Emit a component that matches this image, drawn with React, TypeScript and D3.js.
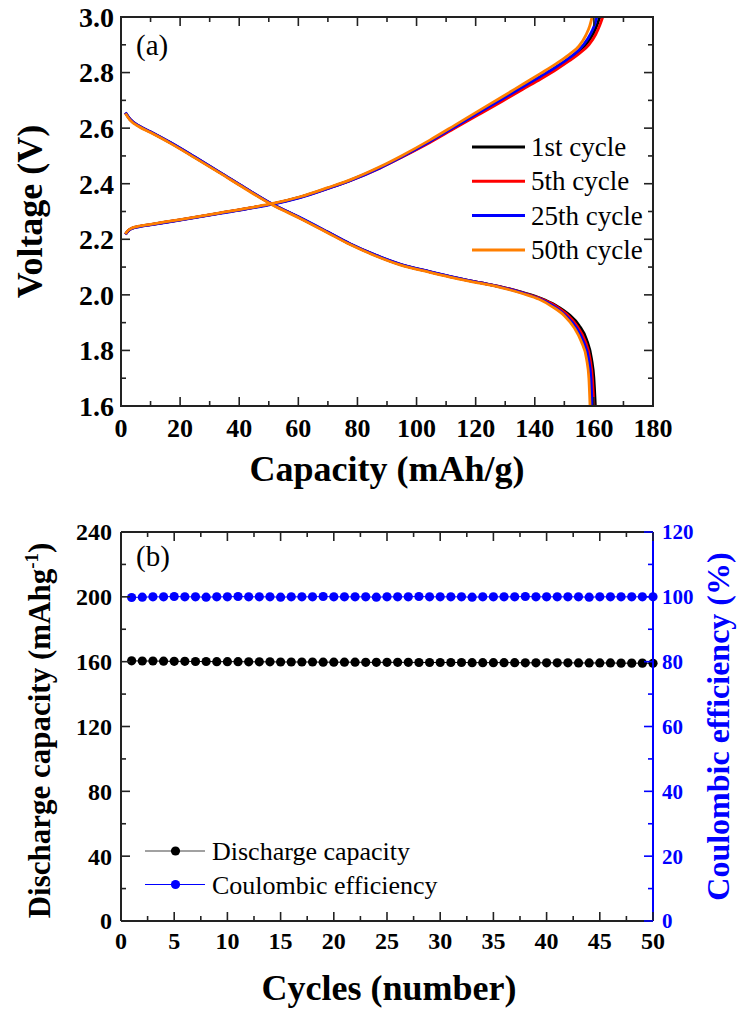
import React from 'react'
import * as d3 from 'd3'

// ---- panel (a): voltage profiles, [capacity mAh/g, voltage V]
const cycleNames = ['1st cycle', '5th cycle', '25th cycle', '50th cycle']
const cycleColors = ['#000000', '#ff0000', '#0000ff', '#ff7f00']

const discharge1 = [[1.5,2.655],[3,2.632],[6,2.608],[10,2.586],[16.6,2.548],[25,2.495],[33.5,2.44],[42,2.384],[51,2.327],[60.6,2.277],[70,2.225],[77.5,2.183],[86,2.143],[94.4,2.11],[104.5,2.083],[111.3,2.066],[121.4,2.044],[128.2,2.03],[136.1,2.008],[142,1.988],[147,1.963],[151.5,1.93],[155,1.89],[157.5,1.84],[159.2,1.77],[160,1.7],[160.5,1.6]]
const discharge5 = [[1.5,2.655],[3,2.632],[6,2.608],[10,2.586],[16.6,2.548],[25,2.495],[33.5,2.44],[42,2.384],[51,2.327],[60.6,2.277],[70,2.225],[77.5,2.183],[86,2.143],[94.4,2.11],[104.5,2.083],[111.3,2.066],[121.4,2.044],[128.2,2.03],[136.1,2.007],[142,1.986],[147,1.96],[151,1.928],[154.5,1.885],[157,1.835],[158.7,1.77],[159.5,1.7],[160,1.6]]
const discharge25 = [[1.5,2.656],[3,2.633],[6,2.609],[10,2.587],[16.6,2.549],[25,2.496],[33.5,2.441],[42,2.385],[51,2.328],[60.6,2.278],[70,2.226],[77.5,2.184],[86,2.144],[94.4,2.111],[104.5,2.084],[111.3,2.067],[121.4,2.044],[128.2,2.029],[136.1,2.006],[142,1.984],[146.5,1.958],[150.5,1.925],[154,1.882],[156.5,1.83],[158.2,1.77],[159,1.7],[159.4,1.6]]
const discharge50 = [[1.5,2.653],[3,2.63],[6,2.606],[10,2.584],[16.6,2.546],[25,2.493],[33.5,2.438],[42,2.382],[51,2.325],[60.6,2.275],[70,2.223],[77.5,2.181],[86,2.141],[94.4,2.108],[104.5,2.081],[111.3,2.064],[121.4,2.042],[128.2,2.027],[136.1,2.004],[141.5,1.984],[146,1.957],[150,1.925],[153.3,1.882],[155.8,1.83],[157.5,1.77],[158.3,1.7],[158.7,1.6]]

const charge1 = [[1.5,2.218],[2.5,2.232],[4,2.241],[6,2.246],[10,2.253],[20,2.27],[33.5,2.294],[45,2.315],[51,2.327],[60.6,2.352],[70,2.384],[77.5,2.412],[87.6,2.458],[95,2.497],[104.5,2.551],[113,2.603],[121.4,2.655],[129,2.702],[136.1,2.746],[142,2.783],[147.4,2.818],[151.5,2.848],[155,2.876],[158,2.91],[160,2.945],[161.2,2.975],[162,3.0]]
const charge5 = [[1.5,2.218],[2.5,2.232],[4,2.241],[6,2.246],[10,2.253],[20,2.27],[33.5,2.294],[45,2.315],[51,2.327],[60.6,2.351],[70,2.383],[77.5,2.411],[87.6,2.456],[95,2.495],[104.5,2.548],[113,2.6],[121.4,2.651],[129,2.697],[136.1,2.741],[142,2.777],[147.4,2.812],[151.5,2.841],[155,2.868],[158.3,2.9],[160.6,2.937],[162,2.97],[163,3.0]]
const charge25 = [[1.5,2.217],[2.5,2.231],[4,2.24],[6,2.245],[10,2.252],[20,2.269],[33.5,2.293],[45,2.314],[51,2.326],[60.6,2.35],[70,2.383],[77.5,2.411],[87.6,2.457],[95,2.497],[104.5,2.552],[113,2.605],[121.4,2.658],[129,2.705],[136.1,2.75],[142,2.787],[147.4,2.822],[151.5,2.852],[155,2.882],[157.8,2.92],[159.6,2.955],[160.5,2.98],[161,3.0]]
const charge50 = [[1.5,2.219],[2.5,2.233],[4,2.242],[6,2.247],[10,2.254],[20,2.271],[33.5,2.295],[45,2.316],[51,2.328],[60.6,2.353],[70,2.386],[77.5,2.414],[87.6,2.461],[95,2.501],[104.5,2.557],[113,2.611],[121.4,2.665],[129,2.713],[136.1,2.759],[142,2.797],[147.4,2.833],[151.5,2.864],[155,2.896],[157.3,2.935],[158.6,2.968],[159.4,3.0]]

const dischargeCurves = [discharge1, discharge5, discharge25, discharge50]
const chargeCurves = [charge1, charge5, charge25, charge50]

// ---- panel (b): cycling
const cycles = d3.range(1, 51)
const dischargeCapacity = [160.5,160.4,160.4,160.3,160.2,160.2,160.1,160.1,160.0,160.0,160.0,159.9,159.9,159.9,159.8,159.8,159.8,159.8,159.7,159.7,159.7,159.7,159.6,159.6,159.6,159.6,159.6,159.5,159.5,159.5,159.5,159.5,159.4,159.4,159.4,159.4,159.4,159.3,159.3,159.3,159.3,159.3,159.2,159.2,159.2,159.2,159.1,159.1,159.1,159.0]
const coulombicEff = [99.8,99.9,100.0,100.0,100.1,100.0,100.0,99.9,100.0,100.0,100.1,100.0,100.0,100.0,99.9,100.0,100.0,100.0,100.1,100.0,100.0,100.0,100.0,99.9,100.0,100.0,100.0,100.1,100.0,100.0,100.0,100.0,99.9,100.0,100.0,100.0,100.0,100.1,100.0,100.0,100.0,100.0,100.0,99.9,100.0,100.0,100.0,100.0,100.0,100.0]

const font = '"Liberation Serif", "Times New Roman", serif'
const axisColor = '#222'
const BLUE = '#0000ff'

const A = { l: 121, r: 653, t: 17, b: 406 }
const B = { l: 121, r: 653, t: 532, b: 921 }

function Ticks({ scale, values, orient, pos, len, color }) {
  // inward ticks
  return values.map((v, i) => {
    const p = scale(v)
    if (orient === 'bottom') return <line key={i} x1={p} x2={p} y1={pos} y2={pos - len} stroke={color} strokeWidth={1.6} />
    if (orient === 'top') return <line key={i} x1={p} x2={p} y1={pos} y2={pos + len} stroke={color} strokeWidth={1.6} />
    if (orient === 'left') return <line key={i} x1={pos} x2={pos + len} y1={p} y2={p} stroke={color} strokeWidth={1.6} />
    return <line key={i} x1={pos} x2={pos - len} y1={p} y2={p} stroke={color} strokeWidth={1.6} />
  })
}

function PanelA() {
  const x = d3.scaleLinear().domain([0, 180]).range([A.l, A.r])
  const y = d3.scaleLinear().domain([1.6, 3.0]).range([A.b, A.t])
  const line = d3.line().x(d => x(d[0])).y(d => y(d[1])).curve(d3.curveMonotoneX)
  const xMaj = d3.range(0, 181, 20)
  const xMin = d3.range(10, 180, 20)
  const yMaj = d3.range(0, 8).map(i => 1.6 + i * 0.2)
  const yMin = d3.range(0, 7).map(i => 1.7 + i * 0.2)
  return (
    <g>
      <defs>
        <clipPath id="clipA"><rect x={A.l} y={A.t} width={A.r - A.l} height={A.b - A.t} /></clipPath>
      </defs>
      <g clipPath="url(#clipA)">
        {cycleColors.map((c, i) => (
          <g key={i}>
            <path d={line(dischargeCurves[i])} fill="none" stroke={c} strokeWidth={2.8} />
            <path d={line(chargeCurves[i])} fill="none" stroke={c} strokeWidth={2.8} />
          </g>
        ))}
      </g>
      <rect x={A.l} y={A.t} width={A.r - A.l} height={A.b - A.t} fill="none" stroke={axisColor} strokeWidth={2} />
      <Ticks scale={x} values={xMaj} orient="bottom" pos={A.b} len={9} color={axisColor} />
      <Ticks scale={x} values={xMin} orient="bottom" pos={A.b} len={5} color={axisColor} />
      <Ticks scale={x} values={xMaj} orient="top" pos={A.t} len={9} color={axisColor} />
      <Ticks scale={x} values={xMin} orient="top" pos={A.t} len={5} color={axisColor} />
      <Ticks scale={y} values={yMaj} orient="left" pos={A.l} len={9} color={axisColor} />
      <Ticks scale={y} values={yMin} orient="left" pos={A.l} len={5} color={axisColor} />
      <Ticks scale={y} values={yMaj} orient="right" pos={A.r} len={9} color={axisColor} />
      <Ticks scale={y} values={yMin} orient="right" pos={A.r} len={5} color={axisColor} />
      {xMaj.map(v => (
        <text key={v} x={x(v)} y={437} textAnchor="middle" fontSize={26} fontWeight="bold">{v}</text>
      ))}
      {yMaj.map(v => (
        <text key={v} x={114} y={y(v)} dy="0.35em" textAnchor="end" fontSize={28} fontWeight="bold">{v.toFixed(1)}</text>
      ))}
      <text x={136} y={55} fontSize={29}>(a)</text>
      {cycleNames.map((n, i) => (
        <g key={n} transform={`translate(0,${147 + i * 34.3})`}>
          <line x1={472} x2={525} y1={0} y2={0} stroke={cycleColors[i]} strokeWidth={3} />
          <text x={531} y={9} fontSize={27}>{n}</text>
        </g>
      ))}
      <text x={(A.l + A.r) / 2} y={481} textAnchor="middle" fontSize={36} fontWeight="bold">Capacity (mAh/g)</text>
      <text transform={`translate(42,${(A.t + A.b) / 2}) rotate(-90)`} textAnchor="middle" fontSize={36} fontWeight="bold">Voltage (V)</text>
    </g>
  )
}

function PanelB() {
  const x = d3.scaleLinear().domain([0, 50]).range([B.l, B.r])
  const yL = d3.scaleLinear().domain([0, 240]).range([B.b, B.t])
  const yR = d3.scaleLinear().domain([0, 120]).range([B.b, B.t])
  const capLine = d3.line().x((d, i) => x(cycles[i])).y(d => yL(d))
  const ceLine = d3.line().x((d, i) => x(cycles[i])).y(d => yR(d))
  const xMaj = d3.range(0, 51, 5)
  const xMin = d3.range(2.5, 50, 5)
  const lMaj = d3.range(0, 241, 40)
  const lMin = d3.range(20, 240, 40)
  const rMaj = d3.range(0, 121, 20)
  const rMin = d3.range(10, 120, 20)
  return (
    <g>
      <path d={capLine(dischargeCapacity)} fill="none" stroke="#000" strokeWidth={1} />
      <path d={ceLine(coulombicEff)} fill="none" stroke={BLUE} strokeWidth={1} />
      {cycles.map((c, i) => (
        <circle key={'c' + c} cx={x(c)} cy={yL(dischargeCapacity[i])} r={4.6} fill="#000" />
      ))}
      {cycles.map((c, i) => (
        <circle key={'e' + c} cx={x(c)} cy={yR(coulombicEff[i])} r={4.6} fill={BLUE} />
      ))}
      <line x1={B.l} x2={B.r} y1={B.t} y2={B.t} stroke={axisColor} strokeWidth={2} />
      <line x1={B.l} x2={B.r} y1={B.b} y2={B.b} stroke={axisColor} strokeWidth={2} />
      <line x1={B.l} x2={B.l} y1={B.t} y2={B.b} stroke={axisColor} strokeWidth={2} />
      <line x1={B.r} x2={B.r} y1={B.t} y2={B.b} stroke={BLUE} strokeWidth={2} />
      <Ticks scale={x} values={xMaj} orient="bottom" pos={B.b} len={9} color={axisColor} />
      <Ticks scale={x} values={xMin} orient="bottom" pos={B.b} len={5} color={axisColor} />
      <Ticks scale={x} values={xMaj} orient="top" pos={B.t} len={9} color={axisColor} />
      <Ticks scale={x} values={xMin} orient="top" pos={B.t} len={5} color={axisColor} />
      <Ticks scale={yL} values={lMaj} orient="left" pos={B.l} len={9} color={axisColor} />
      <Ticks scale={yL} values={lMin} orient="left" pos={B.l} len={5} color={axisColor} />
      <Ticks scale={yR} values={rMaj} orient="right" pos={B.r} len={9} color={BLUE} />
      <Ticks scale={yR} values={rMin} orient="right" pos={B.r} len={5} color={BLUE} />
      {xMaj.map(v => (
        <text key={v} x={x(v)} y={949} textAnchor="middle" fontSize={24} fontWeight="bold">{v}</text>
      ))}
      {lMaj.map(v => (
        <text key={v} x={112} y={yL(v)} dy="0.35em" textAnchor="end" fontSize={24} fontWeight="bold">{v}</text>
      ))}
      {rMaj.map(v => (
        <text key={v} x={662} y={yR(v)} dy="0.35em" textAnchor="start" fontSize={21} fontWeight="bold" fill={BLUE}>{v}</text>
      ))}
      <text x={136} y={566} fontSize={29}>(b)</text>
      {[['Discharge capacity', '#000'], ['Coulombic efficiency', BLUE]].map(([n, c], i) => (
        <g key={n} transform={`translate(0,${851 + i * 33.5})`}>
          <line x1={145} x2={205} y1={0} y2={0} stroke={c === '#000' ? '#444' : c} strokeWidth={1.2} />
          <circle cx={175.5} cy={0} r={4.6} fill={c} />
          <text x={212} y={9} fontSize={26}>{n}</text>
        </g>
      ))}
      <text x={389} y={1000} textAnchor="middle" fontSize={36} fontWeight="bold">Cycles (number)</text>
      <text transform={`translate(50,${(B.t + B.b) / 2 + 4}) rotate(-90)`} textAnchor="middle" fontSize={31} fontWeight="bold">
        Discharge capacity (mAhg<tspan fontSize={19} dy={-12}>-1</tspan><tspan dy={12}>)</tspan>
      </text>
      <text transform={`translate(729,${(B.t + B.b) / 2}) rotate(-90)`} textAnchor="middle" fontSize={32} fontWeight="bold" fill={BLUE}>Coulombic efficiency (%)</text>
    </g>
  )
}

export default function App() {
  return (
    <svg width={740} height={1011} style={{ position: 'absolute', left: 0, top: 0, background: '#fff' }} fontFamily={font}>
      <rect width={740} height={1011} fill="#fff" />
      <PanelA />
      <PanelB />
    </svg>
  )
}
